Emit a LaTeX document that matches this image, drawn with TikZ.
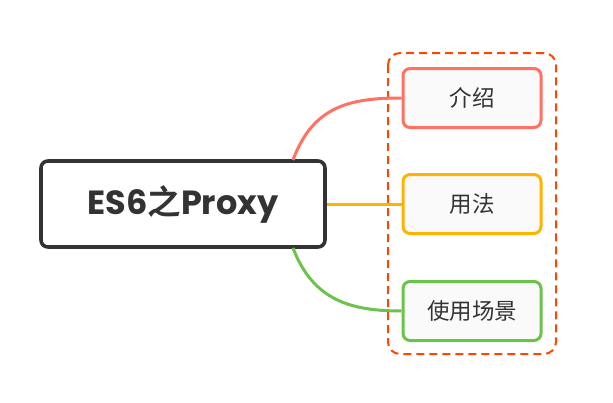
\documentclass[tikz,border=0pt]{standalone}
\usepackage{fontspec}
\newfontfamily\cjk{Noto Sans CJK SC}
\newfontfamily\cjkbold{Noto Sans CJK SC Bold}
\newfontfamily\latinbold{Poppins Bold}
\definecolor{ink}{HTML}{333333}
\definecolor{introred}{HTML}{FF7261}
\definecolor{usageyellow}{HTML}{FFB300}
\definecolor{scenegreen}{HTML}{6CC24A}
\definecolor{framered}{HTML}{FF4500}
\begin{document}
\begin{tikzpicture}[x=1pt,y=-1pt,
  topic/.style = {draw=ink,line width=3.6pt,rounded corners=7pt,fill=white,
    minimum width=284pt,minimum height=86pt,text=ink,
    font=\latinbold\fontsize{33.5}{40}\selectfont},
  branch/.style = {line width=3pt,rounded corners=7pt,fill=white!98!black,
    minimum width=138pt,minimum height=59pt,text=ink,
    font=\cjk\fontsize{22.5}{27}\selectfont},
  link/.style = {line width=3pt}]
   \useasboundingbox (0,0) rectangle (613,402);
   % dashed frame round the branches
   \draw[framered,line width=2pt,dash pattern=on 8pt off 5pt,rounded corners=12pt]
     (388,53) rectangle (556,354);
   % nodes
   \node[topic] (es) at (183,204) {ES6{\cjkbold 之}Proxy};
   \node[branch,draw=introred] (intro) at (472,98) {介绍};
   \node[branch,draw=usageyellow] (usage) at (472,204) {用法};
   \node[branch,draw=scenegreen] (scene) at (472,311) {使用场景};
   % connectors
   \coordinate (up) at (293,160);
   \coordinate (down) at (293,248);
   \draw[link,introred] (up) .. controls (313,106) and (350,98) .. (intro.west);
   \draw[link,scenegreen] (down) .. controls (313,300) and (350,311) .. (scene.west);
   \draw[link,usageyellow] (es.east) -- (usage.west);
\end{tikzpicture}
\end{document}
